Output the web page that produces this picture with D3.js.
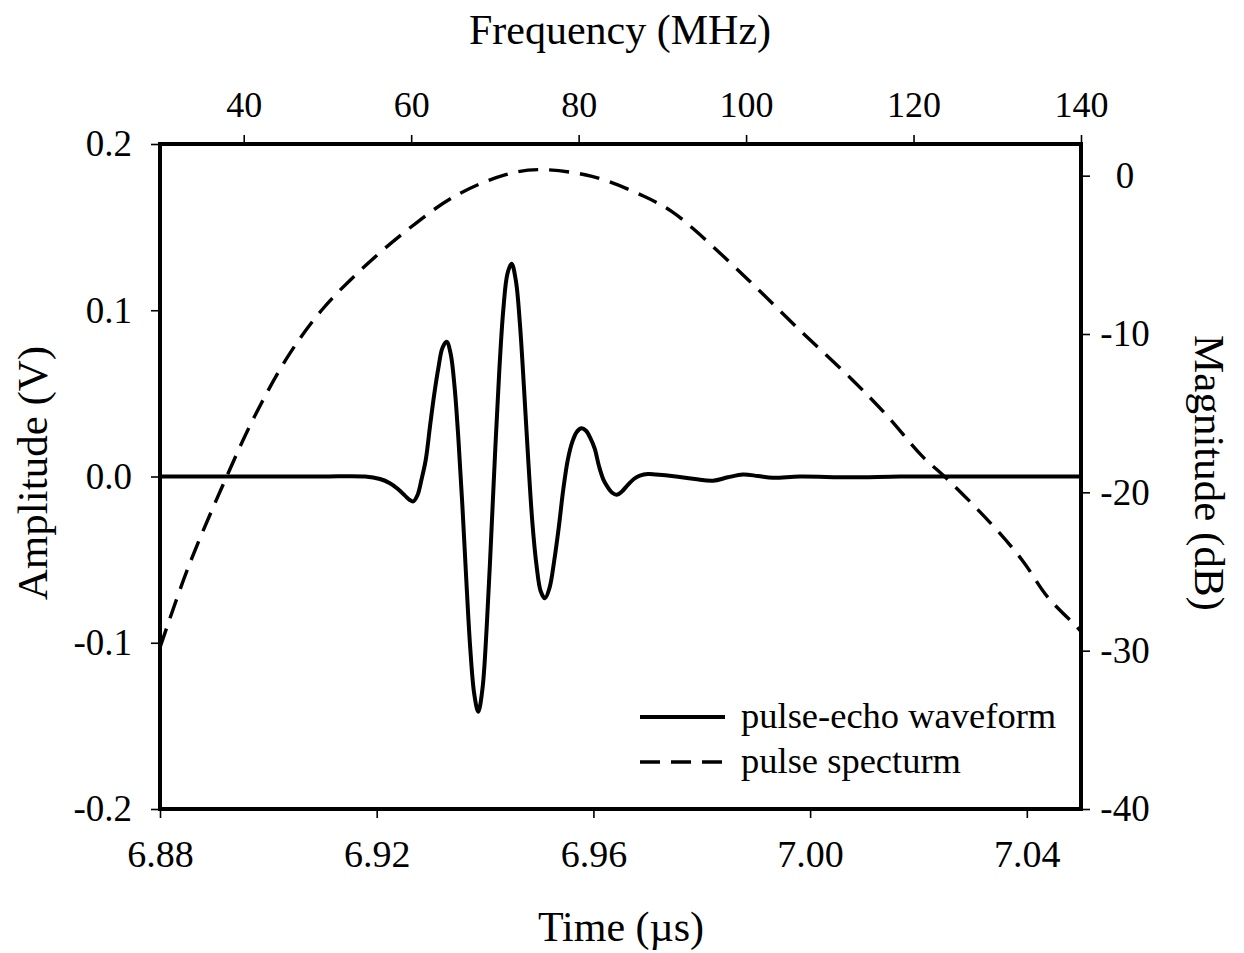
<!DOCTYPE html>
<html>
<head>
<meta charset="utf-8">
<script src="https://cdn.jsdelivr.net/npm/d3@7"></script>
<style>
  html, body { margin: 0; padding: 0; background: #fff; }
  svg { display: block; }
  text { font-family: "Liberation Serif", "DejaVu Serif", serif; fill: #000; }
</style>
</head>
<body>
<svg id="chart" width="1244" height="953"></svg>
<script>
// ---------- data ----------
const waveTime = [6.880, 6.890, 6.900, 6.910, 6.91783, 6.92060, 6.92244, 6.92392, 6.92521, 6.92604,
  6.92674, 6.92752, 6.92829, 6.92905, 6.92983, 6.93060, 6.93137, 6.93213, 6.93291,
  6.93364, 6.93437, 6.93509, 6.93582, 6.93655, 6.93728, 6.93801, 6.93874,
  6.93951, 6.94028, 6.94105, 6.94182, 6.94260, 6.94336, 6.94413, 6.94490,
  6.94568, 6.94643, 6.94721, 6.94797, 6.94874, 6.94952, 6.95027, 6.95105,
  6.95190, 6.95275, 6.95359, 6.95443, 6.95527, 6.95612, 6.95697, 6.95782,
  6.95863, 6.95944, 6.96024, 6.96105, 6.96186, 6.96266, 6.96347, 6.96428,
  6.96526, 6.96636, 6.96747, 6.96858, 6.97006, 6.97153, 6.97522, 6.97873, 6.98205,
  6.98482, 6.98759, 6.99036, 6.99313, 6.99811, 7.00733, 7.01656, 7.02579, 7.03501, 7.05];
const waveAmp = [0, 0, 0, 0, 0, -0.0015, -0.004, -0.0075, -0.0115, -0.014,
  -0.015, -0.0113, -0.0015, 0.010, 0.030, 0.049, 0.065, 0.0773, 0.081,
  0.074, 0.054, 0.022, -0.018, -0.063, -0.104, -0.131, -0.1415,
  -0.128, -0.092, -0.042, 0.012, 0.062, 0.100, 0.122, 0.128,
  0.118, 0.092, 0.052, 0.010, -0.028, -0.054, -0.069, -0.0733,
  -0.067, -0.051, -0.031, -0.008, 0.010, 0.021, 0.027, 0.029,
  0.0275, 0.0231, 0.0167, 0.006, -0.002, -0.0065, -0.0098, -0.011,
  -0.009, -0.005, -0.0015, 0.0005, 0.0015, 0.0012, 0.0, -0.0015, -0.0025,
  -0.0005, 0.0012, 0.0003, -0.0008, 0.0, -0.0005, 0.0, 0.0, 0.0, 0.0];

const specFreq = [30, 33.4, 37.8, 41.3, 45.3, 49.3, 54.1, 59.6, 65.2, 71.2, 75.2, 81.6, 87.8,
  91.1, 94.0, 100.3, 106.5, 112.7, 116.9, 121.0, 123.9, 129.3, 133.0, 136.0, 139.5, 140];
const specDb = [-29.8, -24.7, -19.2, -15.2, -11.4, -8.5, -5.9, -3.4, -1.3, 0.05, 0.38, -0.05, -1.3,
  -2.25, -3.5, -6.6, -9.8, -12.9, -15.2, -17.7, -19.1, -22.0, -24.3, -26.6, -28.5, -28.8];

const timeTicks = [6.88, 6.92, 6.96, 7.00, 7.04];
const timeTickLabels = ["6.88", "6.92", "6.96", "7.00", "7.04"];
const ampTicks = [-0.2, -0.1, 0, 0.1, 0.2];
const ampTickLabels = ["-0.2", "-0.1", "0.0", "0.1", "0.2"];
const freqTicks = [40, 60, 80, 100, 120, 140];
const freqTickLabels = ["40", "60", "80", "100", "120", "140"];
const dbTicks = [-40, -30, -20, -10, 0];
const dbTickLabels = ["-40", "-30", "-20", "-10", "0"];

const legendItems = ["pulse-echo waveform", "pulse specturm"];

// ---------- layout ----------
const L = 160, R = 1081, T = 144, B = 809;
const svg = d3.select("#chart");

const x = d3.scaleLinear().domain([6.88, 7.05]).range([L, R]);
const xTop = d3.scaleLinear().domain([30, 140]).range([L, R]);
const yL = d3.scaleLinear().domain([-0.2, 0.2]).range([B, T]);
const yR = d3.scaleLinear().domain([-40, 2]).range([B, T]);

svg.append("defs").append("clipPath").attr("id", "clip")
  .append("rect").attr("x", L).attr("y", T).attr("width", R - L).attr("height", B - T);

function styleAxis(size) {
  return g => {
    g.select(".domain").remove();
    g.selectAll(".tick line").attr("stroke", "#000").attr("stroke-width", 1.6);
    g.selectAll(".tick text").attr("font-size", size)
      .attr("font-family", "Liberation Serif").attr("fill", "#000");
  };
}

// bottom axis
svg.append("g").attr("transform", `translate(0,${B})`)
  .call(d3.axisBottom(x).tickValues(timeTicks)
    .tickFormat((d, i) => timeTickLabels[i]).tickSize(9).tickPadding(22))
  .call(styleAxis(38));

// top axis
svg.append("g").attr("transform", `translate(0,${T})`)
  .call(d3.axisTop(xTop).tickValues(freqTicks)
    .tickFormat((d, i) => freqTickLabels[i]).tickSize(9).tickPadding(18))
  .call(styleAxis(36));

// left axis
svg.append("g").attr("transform", `translate(${L},0)`)
  .call(d3.axisLeft(yL).tickValues(ampTicks)
    .tickFormat((d, i) => ampTickLabels[i]).tickSize(9).tickPadding(19))
  .call(styleAxis(37));

// right axis
const gR = svg.append("g").attr("transform", `translate(${R},0)`)
  .call(d3.axisRight(yR).tickValues(dbTicks)
    .tickFormat((d, i) => dbTickLabels[i]).tickSize(9).tickPadding(19))
  .call(styleAxis(37));
gR.selectAll(".tick text").attr("text-anchor", "middle").attr("x", 44);

// curves
const specLine = d3.line()
  .x((d, i) => xTop(specFreq[i]))
  .y((d, i) => yR(specDb[i]))
  .curve(d3.curveCatmullRom.alpha(0.5));

const waveLine = d3.line()
  .x((d, i) => x(waveTime[i]))
  .y((d, i) => yL(waveAmp[i]))
  .curve(d3.curveCatmullRom.alpha(0.5));

const plot = svg.append("g").attr("clip-path", "url(#clip)");

plot.append("path").datum(specFreq)
  .attr("d", specLine)
  .attr("fill", "none").attr("stroke", "#000")
  .attr("stroke-width", 3.4).attr("stroke-dasharray", "20,11");

plot.append("path").datum(waveTime)
  .attr("d", waveLine)
  .attr("fill", "none").attr("stroke", "#000")
  .attr("stroke-width", 4).attr("stroke-linejoin", "round");

// frame
svg.append("rect").attr("x", L).attr("y", T).attr("width", R - L).attr("height", B - T)
  .attr("fill", "none").attr("stroke", "#000").attr("stroke-width", 4);

// legend
const lg = svg.append("g");
lg.append("line").attr("x1", 640).attr("x2", 725).attr("y1", 717).attr("y2", 717)
  .attr("stroke", "#000").attr("stroke-width", 4);
lg.append("line").attr("x1", 640).attr("x2", 725).attr("y1", 762).attr("y2", 762)
  .attr("stroke", "#000").attr("stroke-width", 3.4).attr("stroke-dasharray", "20,11");
lg.selectAll("text.leg").data(legendItems).enter().append("text")
  .attr("class", "leg")
  .attr("x", 741).attr("y", (d, i) => 728 + i * 45)
  .attr("font-size", 36.5).text(d => d);

// axis titles
svg.append("text").attr("x", 620).attr("y", 44).attr("text-anchor", "middle")
  .attr("font-size", 42).text("Frequency (MHz)");
svg.append("text").attr("x", 621).attr("y", 941).attr("text-anchor", "middle")
  .attr("font-size", 42).text("Time (\u00b5s)");
svg.append("text").attr("transform", "translate(47,473) rotate(-90)")
  .attr("text-anchor", "middle").attr("font-size", 43).text("Amplitude (V)");
svg.append("text").attr("transform", "translate(1195,473) rotate(90)")
  .attr("text-anchor", "middle").attr("font-size", 43).text("Magnitude (dB)");
</script>
</body>
</html>
